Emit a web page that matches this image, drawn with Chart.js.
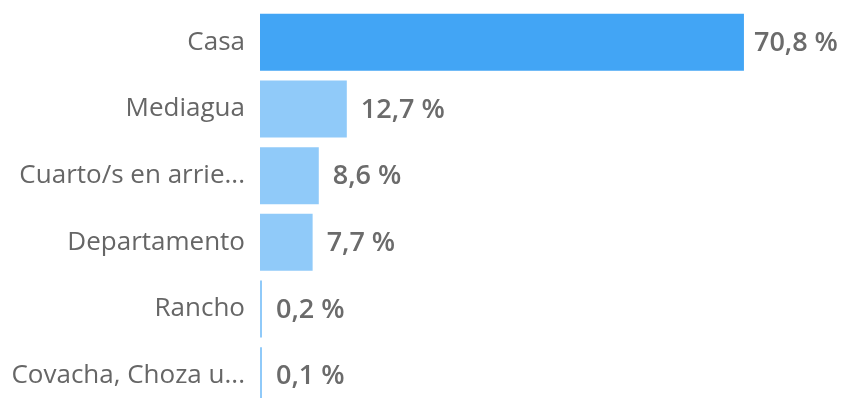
<!DOCTYPE html>
<html lang="es">
<head>
  <meta charset="UTF-8">
  <title>Tipo de vivienda</title>
  <script src="https://cdn.jsdelivr.net/npm/chart.js"></script>
  <style>
    html, body { margin: 0; padding: 0; background: #fff; overflow: hidden; }
    canvas { display: block; }
  </style>
</head>
<body>
  <canvas id="viviendaChart" width="841" height="410"></canvas>

  <script>
    // tipos de vivienda y su porcentaje
    const tipos = ['Casa', 'Mediagua', 'Cuarto/s en arrie...', 'Departamento', 'Rancho', 'Covacha, Choza u...'];
    const porcentajes = [70.8, 12.7, 8.6, 7.7, 0.2, 0.1];
    const colores = ['#42a5f5', '#90caf9', '#90caf9', '#90caf9', '#90caf9', '#90caf9'];

    const fuente = "'Segoe UI', 'Open Sans', 'Noto Sans', sans-serif";

    // escribe el porcentaje a la derecha de cada barra
    const etiquetas = {
      id: 'etiquetas',
      afterDatasetsDraw(chart) {
        const ctx = chart.ctx;
        const meta = chart.getDatasetMeta(0);
        ctx.save();
        ctx.font = '600 27px ' + fuente;
        ctx.fillStyle = '#6b6b6b';
        ctx.textAlign = 'left';
        ctx.textBaseline = 'middle';
        meta.data.forEach((bar, i) => {
          const txt = porcentajes[i].toFixed(1).replace('.', ',') + ' %';
          // la barra mas larga deja un poco menos de espacio
          const gap = i === 0 ? 10 : 14;
          ctx.fillText(txt, bar.x + gap, bar.y + 1);
        });
        ctx.restore();
      }
    };

    new Chart(document.getElementById('viviendaChart'), {
      type: 'bar',
      data: {
        labels: tipos,
        datasets: [{
          data: porcentajes,
          backgroundColor: colores,
          borderWidth: 0,
          minBarLength: 2,
          barPercentage: 0.855,
          categoryPercentage: 1
        }]
      },
      options: {
        indexAxis: 'y',
        responsive: false,
        animation: false,
        layout: { padding: { top: 9, bottom: 1, left: 0, right: 0 } },
        plugins: {
          legend: { display: false },
          tooltip: { enabled: false }
        },
        scales: {
          x: { display: false, min: 0, max: 85 },
          y: {
            grid: { display: false, drawTicks: false },
            border: { display: false },
            ticks: {
              color: '#666',
              padding: 15,
              font: { family: fuente, size: 26 }
            },
            afterFit(scale) {
              // ancho fijo para las etiquetas y sin margen extra arriba/abajo
              scale.width = 260;
              scale.paddingTop = 0;
              scale.paddingBottom = 0;
            }
          }
        }
      },
      plugins: [etiquetas]
    });
  </script>
</body>
</html>
